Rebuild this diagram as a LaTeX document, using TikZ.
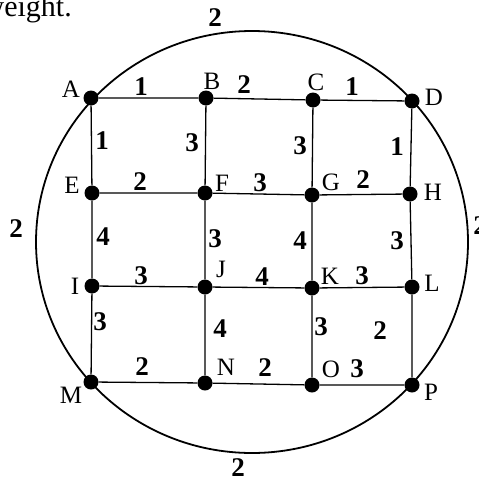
\documentclass[tikz,border=0pt]{standalone}
\usepackage{fontspec}
\setmainfont{Liberation Serif}
\tikzset{
  vtx/.style={circle, fill=black, inner sep=0pt, minimum size=15pt},
  edge/.style={line width=1.3pt},
  ring/.style={line width=1.8pt},
  wt/.style={font=\fontsize{27pt}{28pt}\selectfont\bfseries, inner sep=0pt},
  lbl/.style={font=\fontsize{25pt}{27pt}\selectfont, inner sep=0pt},
  prose/.style={font=\fontsize{30pt}{32pt}\selectfont, inner sep=0pt, anchor=base east},
}
\begin{document}
\begin{tikzpicture}[x=1pt,y=-1pt]
\useasboundingbox (0,0) rectangle (479,482);
\clip (0,0) rectangle (479,482);
% cropped text of the page
\node[prose] (txt) at (72,16) {weight.};
% outer ring
\coordinate (ctr) at (252,242);
\draw[ring] (ctr) ellipse [x radius=216, y radius=211];
% vertices
\node[vtx] (A) at (91,98) {};
\node[vtx] (B) at (206,98) {};
\node[vtx] (C) at (313,100) {};
\node[vtx] (D) at (412,101) {};
\node[vtx] (E) at (92,193) {};
\node[vtx] (F) at (205,193) {};
\node[vtx] (G) at (312,195) {};
\node[vtx] (H) at (410,194) {};
\node[vtx] (I) at (92,286) {};
\node[vtx] (J) at (205,287) {};
\node[vtx] (K) at (312,288) {};
\node[vtx] (L) at (412,287) {};
\node[vtx] (M) at (91,382) {};
\node[vtx] (N) at (205,383) {};
\node[vtx] (O) at (312,385) {};
\node[vtx] (P) at (412,385) {};
% edges
\draw[edge] (A) -- (B) (B) -- (C) (C) -- (D);
\draw[edge] (E) -- (F) (F) -- (G) (G) -- (H);
\draw[edge] (I) -- (J) (J) -- (K) (K) -- (L);
\draw[edge] (M) -- (N) (N) -- (O) (O) -- (P);
\draw[edge] (A) -- (E) (E) -- (I) (I) -- (M);
\draw[edge] (B) -- (F) (F) -- (J) (J) -- (N);
\draw[edge] (C) -- (G) (G) -- (K) (K) -- (O);
\draw[edge] (D) -- (H) (H) -- (L) (L) -- (P);
% vertex labels
\node[lbl] (lA) at (71,89) {A};
\node[lbl] (lB) at (212,81) {B};
\node[lbl] (lC) at (316,82) {C};
\node[lbl] (lD) at (434,97) {D};
\node[lbl] (lE) at (72,185) {E};
\node[lbl] (lF) at (222,183) {F};
\node[lbl] (lG) at (331,182) {G};
\node[lbl] (lH) at (433,192) {H};
\node[lbl] (lI) at (75,286) {I};
\node[lbl] (lJ) at (221,269) {J};
\node[lbl] (lK) at (330,276) {K};
\node[lbl] (lL) at (432,283) {L};
\node[lbl] (lM) at (71,395) {M};
\node[lbl] (lN) at (226,367) {N};
\node[lbl] (lO) at (331,369) {O};
\node[lbl] (lP) at (431,392) {P};
% weights
\node[wt] (wAB) at (141,87) {1};
\node[wt] (wBC) at (244,85) {2};
\node[wt] (wCD) at (352,87) {1};
\node[wt] (wAD) at (215,18) {2};
\node[wt] (wAM) at (16,229) {2};
\node[wt] (wDP) at (480,226) {2};
\node[wt] (wMP) at (238,468) {2};
\node[wt] (wAE) at (102,141) {1};
\node[wt] (wBF) at (192,143) {3};
\node[wt] (wCG) at (300,146) {3};
\node[wt] (wDH) at (397,147) {1};
\node[wt] (wEF) at (140,182) {2};
\node[wt] (wFG) at (260,183) {3};
\node[wt] (wGH) at (363,180) {2};
\node[wt] (wEI) at (103,237) {4};
\node[wt] (wFJ) at (215,239) {3};
\node[wt] (wGK) at (300,241) {4};
\node[wt] (wHL) at (397,241) {3};
\node[wt] (wIJ) at (141,276) {3};
\node[wt] (wJK) at (262,277) {4};
\node[wt] (wKL) at (362,276) {3};
\node[wt] (wIM) at (100,322) {3};
\node[wt] (wJN) at (220,329) {4};
\node[wt] (wKO) at (321,327) {3};
\node[wt] (wLP) at (380,331) {2};
\node[wt] (wMN) at (142,367) {2};
\node[wt] (wNO) at (265,368) {2};
\node[wt] (wOP) at (357,369) {3};
\end{tikzpicture}
\end{document}
